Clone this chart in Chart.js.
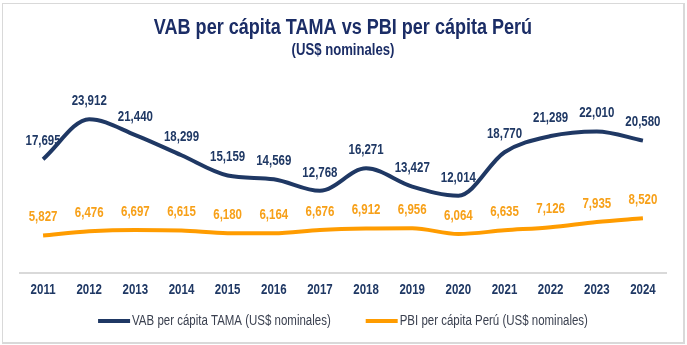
<!DOCTYPE html>
<html lang="es">
<head>
<meta charset="utf-8">
<title>VAB per cápita TAMA vs PBI per cápita Perú</title>
<script src="https://cdn.jsdelivr.net/npm/chart.js@4"></script>
<style>
  html, body { margin: 0; padding: 0; background: #ffffff; }
  #wrap { position: relative; width: 687px; height: 345px; }
  #frame {
    position: absolute; left: 2px; top: 3px; width: 680px; height: 338px;
    border: 1px solid #d9d9d9; border-right-width: 2px; border-bottom-width: 2px;
    pointer-events: none;
  }
  canvas { position: absolute; left: 0; top: 0; }
</style>
</head>
<body>
<div id="wrap">
  <canvas id="chart" width="687" height="345"></canvas>
  <div id="frame"></div>
</div>
<script>
// Years on the horizontal axis
const years = ['2011','2012','2013','2014','2015','2016','2017','2018','2019','2020','2021','2022','2023','2024'];

// VAB per cápita TAMA (US$ nominales)
const vabTama = [17695, 23912, 21440, 18299, 15159, 14569, 12768, 16271, 13427, 12014, 18770, 21289, 22010, 20580];

// PBI per cápita Perú (US$ nominales)
const pbiPeru = [5827, 6476, 6697, 6615, 6180, 6164, 6676, 6912, 6956, 6064, 6635, 7126, 7935, 8520];

const seriesNames = ['VAB per cápita TAMA (US$ nominales)', 'PBI per cápita Perú (US$ nominales)'];
const titleText = 'VAB per cápita TAMA vs PBI per cápita Perú';
const subtitleText = '(US$ nominales)';

const NAVY = '#1f3864';
const TITLE_NAVY = '#1b2d66';
const ORANGE = '#ff9c00';
const ORANGE_TEXT = '#f7a018';
const LEGEND_TEXT = '#3b4150';
const FONT = '"Liberation Sans", Arial, sans-serif';
const NARROW = 0.82; // horizontal squeeze for a narrow typeface look

// Draw text horizontally condensed; align: 'left' | 'center' | 'right'
function narrowText(ctx, text, x, y, font, color, align) {
  ctx.save();
  ctx.font = font;
  ctx.fillStyle = color;
  ctx.textBaseline = 'middle';
  ctx.textAlign = 'left';
  const w = ctx.measureText(text).width * NARROW;
  let left = x;
  if (align === 'center') left = x - w / 2;
  else if (align === 'right') left = x - w;
  ctx.translate(left, y);
  ctx.scale(NARROW, 1);
  ctx.fillText(text, 0, 0);
  ctx.restore();
  return w;
}

// Title, value labels, year labels and legend, all placed from the chart's own layout
const chartText = {
  id: 'chartText',
  afterDatasetsDraw(chart) {
    const ctx = chart.ctx;
    const area = chart.chartArea;
    const cx = (area.left + area.right) / 2;

    // Title block
    narrowText(ctx, titleText, cx, 28, 'bold 22px ' + FONT, TITLE_NAVY, 'center');
    narrowText(ctx, subtitleText, cx, 51, 'bold 16px ' + FONT, TITLE_NAVY, 'center');

    // Value labels above each point
    chart.data.datasets.forEach((ds, i) => {
      const meta = chart.getDatasetMeta(i);
      meta.data.forEach((pt, j) => {
        const txt = ds.data[j].toLocaleString('en-US');
        narrowText(ctx, txt, pt.x, pt.y - 18, 'bold 14px ' + FONT, ds.labelColor, 'center');
      });
    });

    // Year labels under the axis
    const xs = chart.scales.x;
    chart.data.labels.forEach((lab, i) => {
      narrowText(ctx, lab, xs.getPixelForValue(i), area.bottom + 17, 'bold 14px ' + FONT, NAVY, 'center');
    });

    // Legend
    const ly = area.bottom + 48;
    const font = '14px ' + FONT;
    const sample = 32, gapText = 2, gapItems = 35;
    ctx.save();
    ctx.font = font;
    const widths = chart.data.datasets.map(ds => sample + gapText + ctx.measureText(ds.label).width * NARROW);
    ctx.restore();
    const total = widths.reduce((a, b) => a + b, 0) + gapItems * (widths.length - 1);
    let x = cx - total / 2;
    chart.data.datasets.forEach((ds, i) => {
      ctx.save();
      ctx.strokeStyle = ds.borderColor;
      ctx.lineWidth = ds.borderWidth;
      ctx.beginPath();
      ctx.moveTo(x, ly);
      ctx.lineTo(x + sample, ly);
      ctx.stroke();
      ctx.restore();
      narrowText(ctx, ds.label, x + sample + gapText, ly, font, LEGEND_TEXT, 'left');
      x += widths[i] + gapItems;
    });
  }
};

new Chart(document.getElementById('chart'), {
  type: 'line',
  data: {
    labels: years,
    datasets: [
      {
        label: seriesNames[0],
        data: vabTama,
        borderColor: NAVY,
        backgroundColor: NAVY,
        labelColor: NAVY,
        borderWidth: 4,
        pointRadius: 0,
        cubicInterpolationMode: 'monotone',
        fill: false
      },
      {
        label: seriesNames[1],
        data: pbiPeru,
        borderColor: ORANGE,
        backgroundColor: ORANGE,
        labelColor: ORANGE_TEXT,
        borderWidth: 4,
        pointRadius: 0,
        cubicInterpolationMode: 'monotone',
        fill: false
      }
    ]
  },
  options: {
    responsive: false,
    animation: false,
    events: [],
    layout: { padding: { left: 20, right: 21, top: 80, bottom: 72 } },
    scales: {
      x: {
        offset: true,
        grid: { display: false },
        border: { display: true, color: '#d9d9d9', width: 2 },
        ticks: { display: false },
        afterFit: (scale) => { scale.height = 0; }
      },
      y: {
        display: false,
        min: 0,
        max: 30000
      }
    },
    plugins: {
      title: { display: false },
      subtitle: { display: false },
      legend: { display: false },
      tooltip: { enabled: false }
    }
  },
  plugins: [chartText]
});
</script>
</body>
</html>
